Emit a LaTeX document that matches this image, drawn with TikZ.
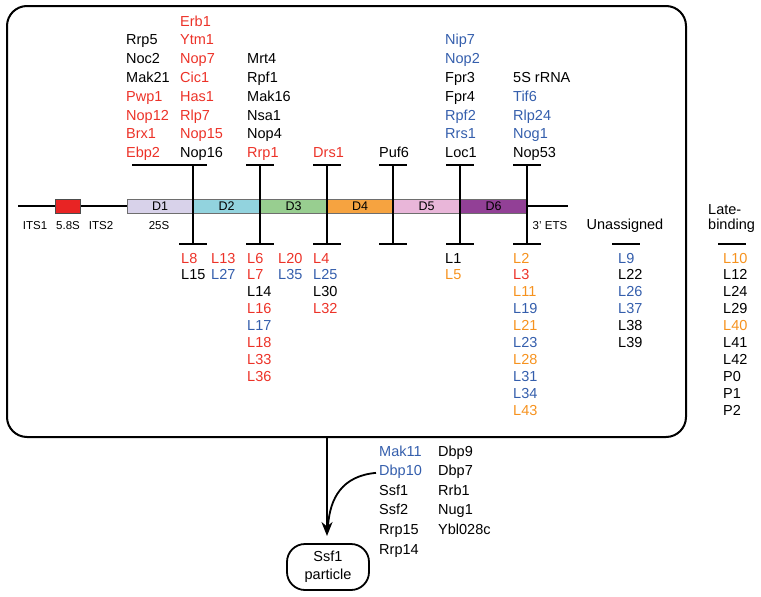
\documentclass[tikz,border=0pt]{standalone}
\usepackage{fontspec}
\setmainfont{Liberation Sans}
\usetikzlibrary{arrows.meta}
\definecolor{cR}{RGB}{236,50,40}
\definecolor{cB}{RGB}{52,94,172}
\definecolor{cO}{RGB}{246,146,30}
\definecolor{cK}{RGB}{0,0,0}
\definecolor{sD1}{RGB}{216,210,234}
\definecolor{sD2}{RGB}{146,211,222}
\definecolor{sD3}{RGB}{152,206,144}
\definecolor{sD4}{RGB}{246,163,64}
\definecolor{sD5}{RGB}{233,182,217}
\definecolor{sD6}{RGB}{146,64,150}
\definecolor{s58}{RGB}{232,36,36}
\tikzset{
  lbl/.style={font=\fontsize{14.5}{14.5}\selectfont, anchor=base west, inner sep=0pt},
  sml/.style={font=\fontsize{11.5}{11.5}\selectfont, anchor=base, inner sep=0pt},
  dlab/.style={font=\fontsize{12.5}{12.5}\selectfont, anchor=base, inner sep=0pt},
  seg/.style={draw={rgb,255:red,110;green,110;blue,110}, line width=0.8pt},
  ibeam/.style={line width=2pt},
  rna/.style={line width=1.5pt},
}
\begin{document}
\begin{tikzpicture}[x=1pt,y=-1pt]
\useasboundingbox (0,0) rectangle (761,597);
% outer box
\draw[line width=2pt, rounded corners=20pt] (7,6) rectangle (686,437);
% rRNA line
\draw[rna] (18,206) -- (127,206);
\draw[rna] (527,206) -- (568,206);
\draw[seg, fill=s58, draw=black!70] (55,199) rectangle (80,213);
\draw[seg, fill=sD1] (127,199) rectangle (193,213);
\draw[seg, fill=sD2] (193,199) rectangle (260,213);
\draw[seg, fill=sD3] (260,199) rectangle (327,213);
\draw[seg, fill=sD4] (327,199) rectangle (393,213);
\draw[seg, fill=sD5] (393,199) rectangle (460,213);
\draw[seg, fill=sD6] (460,199) rectangle (527,213);
\foreach \x/\n [count=\i] in {160/D1,226.5/D2,293.5/D3,360/D4,426.5/D5,493.5/D6}
  \node[dlab] (dl\i) at (\x,210.5) {\n};
\node[sml] (its1) at (35,229.5) {ITS1};
\node[sml] (s58) at (68,229.5) {5.8S};
\node[sml] (its2) at (101,229.5) {ITS2};
\node[sml] (s25) at (159,229.5) {25S};
\node[sml] (ets) at (550,229.5) {3' ETS};
% I-beams
\draw[ibeam] (132,165) -- (207,165);
\foreach \x in {260,327,393,460,527}
  \draw[ibeam] (\x-14,165) -- (\x+14,165);
\foreach \x in {193,260,327,393,460,527} {
  \draw[ibeam] (\x,165) -- (\x,244);
  \draw[ibeam] (\x-14,244) -- (\x+14,244);
}
\draw[ibeam] (612,244) -- (640,244);
\draw[ibeam] (718,244) -- (746,244);
% top columns
\foreach \t/\c [count=\i from 1] in {Rrp5/cK,Noc2/cK,Mak21/cK,Pwp1/cR,Nop12/cR,Brx1/cR,Ebp2/cR}
  \node[lbl,text=\c] (ta\i) at (126,26+18.8*\i) {\t};
\foreach \t/\c [count=\i from 0] in {Erb1/cR,Ytm1/cR,Nop7/cR,Cic1/cR,Has1/cR,Rlp7/cR,Nop15/cR,Nop16/cK}
  \node[lbl,text=\c] (tb\i) at (180,26+18.8*\i) {\t};
\foreach \t/\c [count=\i from 2] in {Mrt4/cK,Rpf1/cK,Mak16/cK,Nsa1/cK,Nop4/cK,Rrp1/cR}
  \node[lbl,text=\c] (tc\i) at (247,26+18.8*\i) {\t};
\node[lbl,text=cR] (td) at (313,26+18.8*7) {Drs1};
\node[lbl,text=cK] (te) at (379,26+18.8*7) {Puf6};
\foreach \t/\c [count=\i from 1] in {Nip7/cB,Nop2/cB,Fpr3/cK,Fpr4/cK,Rpf2/cB,Rrs1/cB,Loc1/cK}
  \node[lbl,text=\c] (tf\i) at (445,26+18.8*\i) {\t};
\foreach \t/\c [count=\i from 3] in {5S rRNA/cK,Tif6/cB,Rlp24/cB,Nog1/cB,Nop53/cK}
  \node[lbl,text=\c] (tg\i) at (513,26+18.8*\i) {\t};
% bottom columns
\foreach \t/\c [count=\i from 0] in {L8/cR,L15/cK}
  \node[lbl,text=\c] (ba\i) at (181,263+16.95*\i) {\t};
\foreach \t/\c [count=\i from 0] in {L13/cR,L27/cB}
  \node[lbl,text=\c] (bb\i) at (211,263+16.95*\i) {\t};
\foreach \t/\c [count=\i from 0] in {L6/cR,L7/cR,L14/cK,L16/cR,L17/cB,L18/cR,L33/cR,L36/cR}
  \node[lbl,text=\c] (bc\i) at (247,263+16.95*\i) {\t};
\foreach \t/\c [count=\i from 0] in {L20/cR,L35/cB}
  \node[lbl,text=\c] (bd\i) at (278,263+16.95*\i) {\t};
\foreach \t/\c [count=\i from 0] in {L4/cR,L25/cB,L30/cK,L32/cR}
  \node[lbl,text=\c] (be\i) at (313,263+16.95*\i) {\t};
\foreach \t/\c [count=\i from 0] in {L1/cK,L5/cO}
  \node[lbl,text=\c] (bf\i) at (445,263+16.95*\i) {\t};
\foreach \t/\c [count=\i from 0] in {L2/cO,L3/cR,L11/cO,L19/cB,L21/cO,L23/cB,L28/cO,L31/cB,L34/cB,L43/cO}
  \node[lbl,text=\c] (bg\i) at (513,263+16.95*\i) {\t};
\foreach \t/\c [count=\i from 0] in {L9/cB,L22/cK,L26/cB,L37/cB,L38/cK,L39/cK}
  \node[lbl,text=\c] (bh\i) at (618,263+16.95*\i) {\t};
\foreach \t/\c [count=\i from 0] in {L10/cO,L12/cK,L24/cK,L29/cK,L40/cO,L41/cK,L42/cK,P0/cK,P1/cK,P2/cK}
  \node[lbl,text=\c] (bi\i) at (723,263+16.95*\i) {\t};
% headers
\node[lbl, anchor=base] (unas) at (625,229.5) {Unassigned};
\node[lbl] (late) at (708,214) {Late-};
\node[lbl] (bind) at (708,229.5) {binding};
% bottom list
\foreach \t/\c [count=\i from 0] in {Mak11/cB,Dbp10/cB,Ssf1/cK,Ssf2/cK,Rrp15/cK,Rrp14/cK}
  \node[lbl,text=\c] (la\i) at (379,456+19.6*\i) {\t};
\foreach \t/\c [count=\i from 0] in {Dbp9/cK,Dbp7/cK,Rrb1/cK,Nug1/cK,Ybl028c/cK}
  \node[lbl,text=\c] (lb\i) at (438,456+19.6*\i) {\t};
% Ssf1 particle
\node[draw, line width=1.8pt, rounded corners=18pt, minimum width=82pt, minimum height=46pt,
      align=center, font=\fontsize{14.5}{18}\selectfont, inner sep=0pt] (ssf) at (328,567) {Ssf1\\particle};
\coordinate (boxb) at (327,437);
\coordinate (tip) at (327,536);
\draw[line width=2pt, -{Stealth[length=14pt,width=11pt]}] (boxb) -- (tip);
\draw[line width=1.8pt] ([xshift=-3pt,yshift=-1pt]la1.west) .. controls (342,476) and (330,498) .. (328,526);
\end{tikzpicture}
\end{document}
